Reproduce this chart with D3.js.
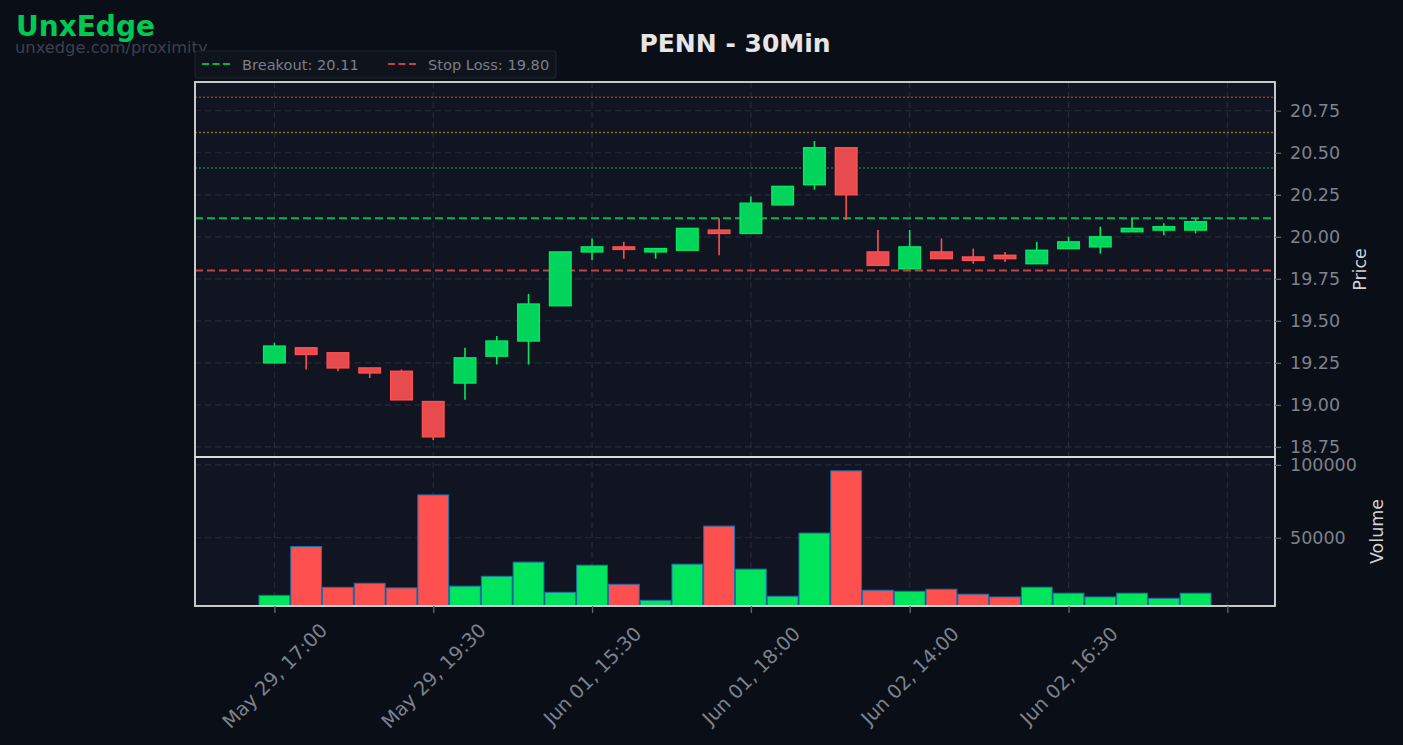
<!DOCTYPE html>
<html>
<head>
<meta charset="utf-8">
<script src="https://cdn.jsdelivr.net/npm/d3@7"></script>
<style>
  html, body { margin: 0; padding: 0; background: #0a0e17; }
  svg { display: block; font-family: "DejaVu Sans", sans-serif; }
</style>
</head>
<body>
<div id="chart"></div>
<script>
// candle index 0..29, 30 minute bars
const opens  = [19.25, 19.34, 19.31, 19.22, 19.20, 19.02, 19.13, 19.29, 19.38, 19.59,
                19.91, 19.94, 19.91, 19.92, 20.04, 20.02, 20.19, 20.31, 20.53, 19.91,
                19.81, 19.91, 19.88, 19.89, 19.84, 19.93, 19.94, 20.03, 20.04, 20.04];
const highs  = [19.37, 19.34, 19.31, 19.22, 19.21, 19.02, 19.34, 19.41, 19.66, 19.91,
                19.99, 19.97, 19.93, 20.05, 20.11, 20.24, 20.30, 20.57, 20.53, 20.04,
                20.04, 19.99, 19.93, 19.91, 19.97, 20.00, 20.06, 20.11, 20.08, 20.11];
const lows   = [19.25, 19.21, 19.20, 19.16, 19.03, 18.79, 19.03, 19.24, 19.24, 19.59,
                19.86, 19.87, 19.87, 19.92, 19.89, 20.02, 20.19, 20.28, 20.10, 19.83,
                19.81, 19.87, 19.84, 19.85, 19.84, 19.93, 19.90, 20.03, 20.01, 20.02];
const closes = [19.35, 19.30, 19.22, 19.19, 19.03, 18.81, 19.28, 19.38, 19.60, 19.91,
                19.94, 19.93, 19.93, 20.05, 20.02, 20.20, 20.30, 20.53, 20.25, 19.83,
                19.94, 19.87, 19.86, 19.87, 19.92, 19.97, 20.00, 20.05, 20.06, 20.09];
const volumes = [10500, 44000, 16000, 18800, 15600, 79400, 16800, 23600, 33300, 12600,
                 31200, 18100, 7100, 31900, 58000, 28500, 9900, 53200, 95900, 14000,
                 13300, 14700, 11300, 9400, 16100, 12000, 9400, 12000, 8500, 12000];

const tickIdx = [0, 5, 10, 15, 20, 25, 30];
const tickLabels = ['May 29, 17:00', 'May 29, 19:30', 'Jun 01, 15:30',
                    'Jun 01, 18:00', 'Jun 02, 14:00', 'Jun 02, 16:30', ''];
const priceTicks = [18.75, 19.00, 19.25, 19.50, 19.75, 20.00, 20.25, 20.50, 20.75];
const volumeTicks = [50000, 100000];

const breakout = 20.11;
const stopLoss = 19.80;
const targets = [20.41, 20.62, 20.83];
const targetColors = ['#1c7a4c', '#84741e', '#8a4220'];

const W = 1403, H = 745;
const left = 195, right = 1275;
const pTop = 82, pBot = 457, vBot = 606;

const GREEN = '#00d45a', GREEN_EDGE = '#00e865';
const RED = '#e84b4d', RED_EDGE = '#ff5050';
const GRID = '#262b38';
const TICK_TXT = '#7d828c';

const svg = d3.select('#chart').append('svg')
    .attr('width', W).attr('height', H);

svg.append('rect').attr('width', W).attr('height', H).attr('fill', '#0a0e17');

const x = d3.scaleLinear().domain([-2.5, 31.5]).range([left, right]);
const yP = d3.scaleLinear().domain([18.69, 20.921]).range([pBot, pTop]);
const yV = d3.scaleLinear().domain([3200, 105400]).range([vBot, pBot]);

const step = x(1) - x(0);
const candles = opens.map((o, i) => ({ i, o, h: highs[i], l: lows[i], c: closes[i], v: volumes[i] }));

// panel backgrounds
svg.append('rect').attr('x', left).attr('y', pTop).attr('width', right - left).attr('height', pBot - pTop)
    .attr('fill', '#111521');
svg.append('rect').attr('x', left).attr('y', pBot).attr('width', right - left).attr('height', vBot - pBot)
    .attr('fill', '#111521');

// grid
const grid = svg.append('g').attr('stroke', GRID).attr('stroke-width', 1.2).attr('stroke-dasharray', '6,4');
grid.selectAll('.vg').data(tickIdx).enter().append('line')
    .attr('x1', d => x(d)).attr('x2', d => x(d)).attr('y1', pTop).attr('y2', vBot);
grid.selectAll('.hg').data(priceTicks).enter().append('line')
    .attr('x1', left).attr('x2', right).attr('y1', d => yP(d)).attr('y2', d => yP(d));
grid.selectAll('.hv').data(volumeTicks).enter().append('line')
    .attr('x1', left).attr('x2', right).attr('y1', d => yV(d)).attr('y2', d => yV(d));

// target levels (dotted)
svg.append('g').selectAll('line').data(targets).enter().append('line')
    .attr('x1', left).attr('x2', right)
    .attr('y1', d => yP(d)).attr('y2', d => yP(d))
    .attr('stroke', (d, i) => targetColors[i])
    .attr('stroke-width', 1.5).attr('stroke-dasharray', '2,2');

// breakout / stop
svg.append('line').attr('x1', left).attr('x2', right)
    .attr('y1', yP(breakout)).attr('y2', yP(breakout))
    .attr('stroke', '#00b852').attr('stroke-width', 2).attr('stroke-dasharray', '8,4');
svg.append('line').attr('x1', left).attr('x2', right)
    .attr('y1', yP(stopLoss)).attr('y2', yP(stopLoss))
    .attr('stroke', '#c8413f').attr('stroke-width', 2).attr('stroke-dasharray', '8,4');

// candles
const cg = svg.append('g');
cg.selectAll('.wick').data(candles).enter().append('line')
    .attr('x1', d => x(d.i)).attr('x2', d => x(d.i))
    .attr('y1', d => yP(d.h)).attr('y2', d => yP(d.l))
    .attr('stroke', d => d.c >= d.o ? GREEN_EDGE : RED_EDGE)
    .attr('stroke-width', 1.6);
const bw = step * 0.68;
cg.selectAll('.body').data(candles).enter().append('rect')
    .attr('x', d => x(d.i) - bw / 2)
    .attr('width', bw)
    .attr('y', d => yP(Math.max(d.o, d.c)))
    .attr('height', d => Math.max(yP(Math.min(d.o, d.c)) - yP(Math.max(d.o, d.c)), 2.5))
    .attr('fill', d => d.c >= d.o ? GREEN : RED)
    .attr('stroke', d => d.c >= d.o ? GREEN_EDGE : RED_EDGE)
    .attr('stroke-width', 1.4);

// volume bars
const vw = step * 0.97;
svg.append('g').selectAll('rect').data(candles).enter().append('rect')
    .attr('x', d => x(d.i) - vw / 2)
    .attr('width', vw)
    .attr('y', d => yV(d.v))
    .attr('height', d => vBot - yV(d.v))
    .attr('fill', d => d.c >= d.o ? '#00e45e' : '#ff5050')
    .attr('stroke', '#1f6fae').attr('stroke-width', 1);

// frames
[[pTop, pBot], [pBot, vBot]].forEach(([a, b]) => {
    svg.append('rect').attr('x', left).attr('y', a).attr('width', right - left).attr('height', b - a)
        .attr('fill', 'none').attr('stroke', '#dcdcdc').attr('stroke-width', 1.8);
});

// axes
function styleAxis(g) {
    g.select('.domain').remove();
    g.selectAll('.tick line').attr('stroke', '#5c616b').attr('stroke-width', 1.4);
    g.selectAll('.tick text').attr('fill', TICK_TXT).style('font-size', '17.5px')
        .style('font-family', '"DejaVu Sans", sans-serif');
}

svg.append('g').attr('transform', `translate(${right},0)`)
    .call(d3.axisRight(yP).tickValues(priceTicks).tickFormat(d3.format('.2f')).tickSize(6).tickPadding(9))
    .call(styleAxis);

svg.append('g').attr('transform', `translate(${right},0)`)
    .call(d3.axisRight(yV).tickValues(volumeTicks).tickFormat(d => d).tickSize(6).tickPadding(9))
    .call(styleAxis);

const xa = svg.append('g').attr('transform', `translate(0,${vBot})`)
    .call(d3.axisBottom(x).tickValues(tickIdx).tickFormat((d, i) => tickLabels[i]).tickSize(7))
    .call(styleAxis);
xa.selectAll('.tick text')
    .attr('y', 0).attr('dy', 0)
    .attr('text-anchor', 'middle')
    .attr('dominant-baseline', 'central')
    .style('font-size', '19.3px')
    .attr('transform', 'translate(0,70) rotate(-45)');

// axis titles
svg.append('text').attr('transform', `translate(1360,${(pTop + pBot) / 2}) rotate(-90)`)
    .attr('text-anchor', 'middle').attr('dominant-baseline', 'central')
    .attr('fill', '#d2d2d2').style('font-size', '17.5px').text('Price');
svg.append('text').attr('transform', `translate(1377,${(pBot + vBot) / 2}) rotate(-90)`)
    .attr('text-anchor', 'middle').attr('dominant-baseline', 'central')
    .attr('fill', '#d2d2d2').style('font-size', '17.5px').text('Volume');

// title + branding
svg.append('text').attr('x', 735).attr('y', 52).attr('text-anchor', 'middle')
    .attr('fill', '#e6e6e6').style('font-size', '25px').style('font-weight', 'bold')
    .text('PENN - 30Min');
svg.append('text').attr('x', 16).attr('y', 36)
    .attr('fill', '#00c853').style('font-size', '28px').style('font-weight', 'bold')
    .text('UnxEdge');
svg.append('text').attr('x', 15).attr('y', 53)
    .attr('fill', '#3c414c').style('font-size', '16.3px')
    .text('unxedge.com/proximity');

// legend
const lg = svg.append('g');
lg.append('rect').attr('x', 195).attr('y', 51).attr('width', 361).attr('height', 27).attr('rx', 3)
    .attr('fill', '#0f131c').attr('stroke', '#1f2431').attr('stroke-width', 1.2);
const legendItems = [
    { label: `Breakout: ${breakout.toFixed(2)}`, color: '#00b852', x: 202 },
    { label: `Stop Loss: ${stopLoss.toFixed(2)}`, color: '#c8413f', x: 388 }
];
legendItems.forEach(it => {
    lg.append('line').attr('x1', it.x).attr('x2', it.x + 28).attr('y1', 64).attr('y2', 64)
        .attr('stroke', it.color).attr('stroke-width', 2).attr('stroke-dasharray', '7,3.5');
    lg.append('text').attr('x', it.x + 40).attr('y', 69.5)
        .attr('fill', '#7a7f8a').style('font-size', '14.6px').text(it.label);
});
</script>
</body>
</html>
